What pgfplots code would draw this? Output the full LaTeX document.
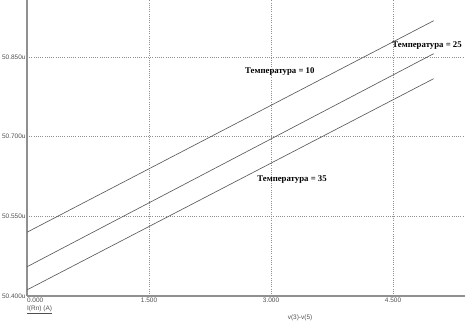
\documentclass[border=0pt]{standalone}
\usepackage{pgfplots}
\pgfplotsset{compat=1.18}
\usepackage{fontspec}
\setmainfont{Liberation Serif}
\newfontfamily\tickfont{Liberation Sans}
\definecolor{axgray}{HTML}{909090}
\definecolor{linegray}{HTML}{5A5A5A}
\definecolor{txtgray}{HTML}{505050}
\begin{document}
\begin{tikzpicture}
\begin{axis}[
  name=ax,
  scale only axis,
  width=438bp, height=296bp,
  xmin=0, xmax=5.385, ymin=50.4, ymax=50.957,
  axis lines*=left,
  axis line style={axgray, line width=1.3pt, -},
  xtick={0,1.5,3,4.5},
  xticklabels={\makebox[0pt][l]{0.000},1.500,3.000,4.500},
  ytick={50.4,50.55,50.7,50.85},
  yticklabels={50.400u,50.550u,50.700u,50.850u},
  major tick length=0pt,
  tick label style={font=\tickfont\fontsize{6.5}{7}\selectfont, text=txtgray},
  xticklabel style={yshift=2pt},
  yticklabel style={xshift=2pt},
  grid=major,
  grid style={axgray, dash pattern=on 0.8bp off 1.4bp, line width=0.7pt},
  clip=false,
]
\addplot[linegray, line width=0.65pt] coordinates {(0,50.520) (5.0,50.918)};
\addplot[linegray, line width=0.65pt] coordinates {(0,50.455) (5.0,50.856)};
\addplot[linegray, line width=0.65pt] coordinates {(0,50.4115) (5.0,50.809)};
\node[anchor=west, font=\bfseries\fontsize{8.8}{9}\selectfont, inner sep=0pt] at (axis cs:2.68,50.822) {Температура = 10};
\node[anchor=west, font=\bfseries\fontsize{8.8}{9}\selectfont, inner sep=0pt] at (axis cs:4.49,50.871) {Температура = 25};
\node[anchor=west, font=\bfseries\fontsize{8.8}{9}\selectfont, inner sep=0pt] at (axis cs:2.83,50.620) {Температура = 35};
\node[font=\tickfont\fontsize{6.5}{7}\selectfont, text=txtgray, inner sep=0pt] at (axis cs:3.357,50.4) [yshift=-22bp] {v(3)-v(5)};
\node[anchor=west, font=\tickfont\fontsize{6.5}{7}\selectfont, text=txtgray, inner sep=0pt] at (axis cs:0,50.4) [yshift=-14bp] {\underline{I(Rn) (A)}};
\end{axis}
\pgfresetboundingbox
\path (ax.south west) ++(-27bp,-29bp) rectangle (ax.north east);
\end{tikzpicture}
\end{document}
